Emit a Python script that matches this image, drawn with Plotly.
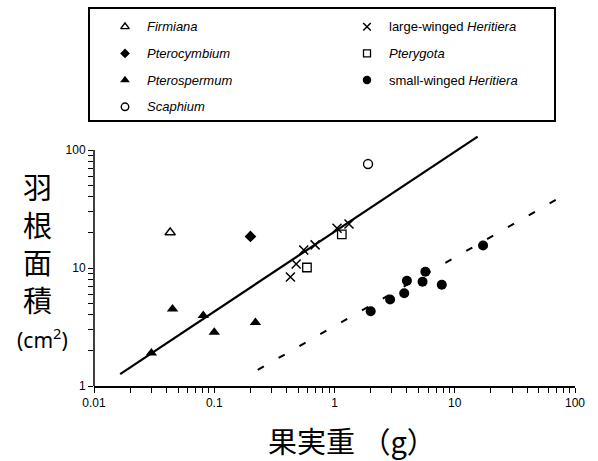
import math
import plotly.graph_objects as go

# ---------------- data: fruit weight (g) vs wing area (cm2) ----------------
firmiana_x = [0.043]
firmiana_y = [20.0]

pterocymbium_x = [0.20]
pterocymbium_y = [18.5]

pterospermum_x = [0.030, 0.045, 0.081, 0.10, 0.22]
pterospermum_y = [1.9, 4.5, 3.95, 2.85, 3.45]

scaphium_x = [1.9]
scaphium_y = [76.0]

large_heritiera_x = [0.43, 0.48, 0.555, 0.69, 1.05, 1.32]
large_heritiera_y = [8.4, 10.8, 14.2, 15.7, 21.7, 23.6]

pterygota_x = [0.59, 1.15]
pterygota_y = [10.1, 19.3]

small_heritiera_x = [2.0, 2.9, 3.8, 4.0, 5.4, 5.7, 7.8, 17.2]
small_heritiera_y = [4.3, 5.4, 6.1, 7.8, 7.65, 9.3, 7.2, 15.5]

# regression lines (end points)
fit_winged_x = [0.0165, 15.5]
fit_winged_y = [1.26, 130.0]
fit_small_x = [0.23, 70.0]
fit_small_y = [1.37, 38.0]

x_tick_vals = [0.01, 0.1, 1, 10, 100]
x_tick_text = ["0.01", "0.1", "1", "10", "100"]
y_tick_vals = [1, 10, 100]
y_tick_text = ["1", "10", "100"]

series_names = ["Firmiana", "Pterocymbium", "Pterospermum", "Scaphium",
                "large-winged Heritiera", "Pterygota", "small-winged Heritiera"]
legend_labels = ["<i>Firmiana</i>", "<i>Pterocymbium</i>", "<i>Pterospermum</i>",
                 "<i>Scaphium</i>", "large-winged <i>Heritiera</i>",
                 "<i>Pterygota</i>", "small-winged <i>Heritiera</i>"]

# ---------------- styling ----------------
W, H = 598, 461
TXT = "Liberation Sans, Arial, sans-serif"
CJK = "Noto Sans CJK JP"

styles = {
    "Firmiana": dict(symbol="triangle-up-open", size=9, lw=1.4),
    "Pterocymbium": dict(symbol="diamond", size=9, lw=0),
    "Pterospermum": dict(symbol="triangle-up", size=10, lw=0),
    "Scaphium": dict(symbol="circle-open", size=9, lw=1.4),
    "large-winged Heritiera": dict(symbol="x-thin-open", size=9, lw=1.5),
    "Pterygota": dict(symbol="square-open", size=8.5, lw=1.3),
    "small-winged Heritiera": dict(symbol="circle", size=10, lw=0),
}
legend_slot = {  # (column, row)
    "Firmiana": (0, 0), "Pterocymbium": (0, 1), "Pterospermum": (0, 2),
    "Scaphium": (0, 3), "large-winged Heritiera": (1, 0),
    "Pterygota": (1, 1), "small-winged Heritiera": (1, 2),
}
series_data = {
    "Firmiana": (firmiana_x, firmiana_y),
    "Pterocymbium": (pterocymbium_x, pterocymbium_y),
    "Pterospermum": (pterospermum_x, pterospermum_y),
    "Scaphium": (scaphium_x, scaphium_y),
    "large-winged Heritiera": (large_heritiera_x, large_heritiera_y),
    "Pterygota": (pterygota_x, pterygota_y),
    "small-winged Heritiera": (small_heritiera_x, small_heritiera_y),
}

fig = go.Figure()

# regression lines
fig.add_trace(go.Scatter(x=fit_winged_x, y=fit_winged_y, mode="lines",
                         line=dict(color="black", width=2.2), hoverinfo="skip"))
fig.add_trace(go.Scatter(x=fit_small_x, y=fit_small_y, mode="lines",
                         line=dict(color="black", width=2, dash="7px,17px"),
                         hoverinfo="skip"))

# data points
for name in series_names:
    xs, ys = series_data[name]
    st = styles[name]
    fig.add_trace(go.Scatter(
        x=xs, y=ys, mode="markers", name=name,
        marker=dict(symbol=st["symbol"], size=st["size"], color="black",
                    line=dict(color="black", width=st["lw"])),
        cliponaxis=False))

# legend box (drawn on its own hidden axes)
for name, label in zip(series_names, legend_labels):
    col, row = legend_slot[name]
    st = styles[name]
    fig.add_trace(go.Scatter(
        x=[col], y=[row], mode="markers", xaxis="x2", yaxis="y2",
        marker=dict(symbol=st["symbol"], size=st["size"] - 1.5, color="black",
                    line=dict(color="black", width=st["lw"])),
        hoverinfo="skip"))
    fig.add_annotation(x=col + 20 / 242, y=row, xref="x2", yref="y2",
                       text=label, showarrow=False, xanchor="left",
                       yanchor="middle", font=dict(family=TXT, size=13, color="black"))

# tick marks: labelled decades plus unlabelled 2..9 within each decade
def with_minor(vals, texts):
    out_v, out_t = [], []
    for i, (v, t) in enumerate(zip(vals, texts)):
        out_v.append(v)
        out_t.append(t)
        if i < len(vals) - 1:
            for k in range(2, 10):
                out_v.append(v * k)
                out_t.append("")
    return out_v, out_t

x_all_vals, x_all_text = with_minor(x_tick_vals, x_tick_text)
y_all_vals, y_all_text = with_minor(y_tick_vals, y_tick_text)

y_top = 135.0
x_dom = [94 / W, 575 / W]
y_dom = [(H - 386) / H, (H - 386 + 118 * math.log10(y_top)) / H]

fig.update_layout(
    width=W, height=H,
    margin=dict(l=0, r=0, t=0, b=0),
    paper_bgcolor="white", plot_bgcolor="white",
    showlegend=False,
    xaxis=dict(type="log", domain=x_dom, range=[-2, 2],
               showline=True, linecolor="black", linewidth=1.5,
               ticks="outside", ticklen=5, tickwidth=1.2, tickcolor="black",
               tickmode="array", tickvals=x_all_vals, ticktext=x_all_text,
               tickfont=dict(family=TXT, size=12, color="black"),
               showgrid=False, zeroline=False, automargin=False, anchor="y"),
    yaxis=dict(type="log", domain=y_dom, range=[0, math.log10(y_top)],
               showline=False,
               ticks="outside", ticklen=5, tickwidth=1.2, tickcolor="black",
               tickmode="array", tickvals=y_all_vals, ticktext=y_all_text,
               tickfont=dict(family=TXT, size=12, color="black"),
               showgrid=False, zeroline=False, automargin=False, anchor="x"),
    xaxis2=dict(domain=[90 / W, 554 / W], range=[-35 / 242, 429 / 242],
                showline=True, mirror=True, linecolor="black", linewidth=1.5,
                showticklabels=False, ticks="", showgrid=False, zeroline=False,
                anchor="y2", fixedrange=True),
    yaxis2=dict(domain=[(H - 120) / H, (H - 9) / H],
                range=[(120 - 26.7) / 26.7, (9 - 26.7) / 26.7],
                showline=True, mirror=True, linecolor="black", linewidth=1.5,
                showticklabels=False, ticks="", showgrid=False, zeroline=False,
                anchor="x2", fixedrange=True),
)

# y axis line spans the labelled decades only
fig.add_shape(type="line", xref="x domain", x0=0, x1=0, yref="y", y0=1, y1=100,
              line=dict(color="black", width=1.5))

# axis titles
fig.add_annotation(x=37 / W, y=(H - 242) / H, xref="paper", yref="paper",
                   text="羽<br>根<br>面<br>積", showarrow=False,
                   xanchor="center", yanchor="middle", align="center",
                   font=dict(family=CJK, size=29, color="black"))
fig.add_annotation(x=42 / W, y=(H - 338) / H, xref="paper", yref="paper",
                   text="(cm<sup>2</sup>)", showarrow=False, xanchor="center",
                   yanchor="middle", font=dict(family="Noto Sans", size=21, color="black"))
fig.add_annotation(x=352 / W, y=(H - 440) / H, xref="paper", yref="paper",
                   text="果実重 （g）", showarrow=False, xanchor="center",
                   yanchor="middle", font=dict(family=CJK, size=29, color="black"))

fig.write_html("out.html")
